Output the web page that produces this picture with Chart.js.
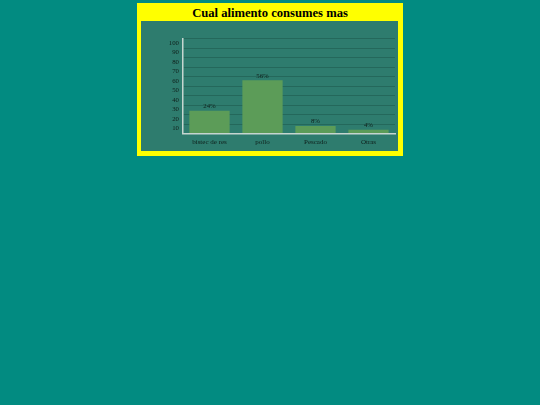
<!DOCTYPE html>
<html>
<head>
<meta charset="utf-8">
<script src="https://cdn.jsdelivr.net/npm/chart.js@4/dist/chart.umd.min.js"></script>
<style>
  html, body { margin: 0; padding: 0; background: #028b81; width: 540px; height: 405px; overflow: hidden; }
  #frame { position: absolute; left: 137px; top: 3px; width: 266px; height: 153px; background: #ffff00; }
  #title { position: absolute; left: 0; top: 3px; width: 266px; height: 16px; line-height: 16px; text-align: center;
           font: bold 12.6px "Liberation Serif", "DejaVu Serif", serif; color: #000; }
  #panel { position: absolute; left: 4px; top: 18px; width: 257px; height: 130px; background: #2e7c6e; }
</style>
</head>
<body>
<div id="frame">
  <div id="title">Cual alimento consumes mas</div>
  <div id="panel"><canvas id="c" width="257" height="130"></canvas></div>
</div>
<script>
"use strict";
// food preference bar chart
const categories = ["bistec de res", "pollo", "Pescado", "Otras"];
const values = [24, 56, 8, 4];
const valueLabels = ["24%", "56%", "8%", "4%"];

const serif = '"Liberation Serif", "DejaVu Serif", serif';
const ink = "#0f1f1b", grid = "#24685b", axis = "#c6d5d0";

// draws the "xx%" text over each bar
const barLabels = {
  id: "barLabels",
  afterDatasetsDraw(chart) {
    const ctx = chart.ctx, meta = chart.getDatasetMeta(0);
    ctx.save();
    ctx.font = "6.8px " + serif;
    ctx.fillStyle = ink;
    ctx.textAlign = "center";
    ctx.textBaseline = "middle";
    meta.data.forEach((bar, i) => ctx.fillText(valueLabels[i], bar.x, bar.y - 4.5));
    ctx.restore();
  }
};

new Chart(document.getElementById("c"), {
  type: "bar",
  data: {
    labels: categories,
    datasets: [{ data: values, backgroundColor: "#5c9c58", borderWidth: 0,
                 barPercentage: 0.76, categoryPercentage: 1 }]
  },
  options: {
    responsive: false, animation: false,
    layout: { padding: { top: 17.5, right: 3, left: 0, bottom: 0 } },
    plugins: { legend: { display: false }, title: { display: false }, tooltip: { enabled: false } },
    scales: {
      x: {
        grid: { display: false, drawTicks: false },
        border: { display: true, color: axis, width: 1.5 },
        ticks: { color: ink, font: { family: serif, size: 7 }, padding: 4, maxRotation: 0, autoSkip: false },
        afterFit: (s) => { s.height = 17.5; }
      },
      y: {
        min: 0, max: 100,
        grid: { color: grid, lineWidth: 1, drawTicks: false },
        border: { display: true, color: axis, width: 1.5 },
        ticks: { stepSize: 10, autoSkip: false, color: ink, font: { family: serif, size: 6.8 }, padding: 4, labelOffset: 4.5,
                 callback: (v) => v === 0 ? "" : v },
        afterFit: (s) => { s.width = 42; }
      }
    }
  },
  plugins: [barLabels]
});
</script>
</body>
</html>
